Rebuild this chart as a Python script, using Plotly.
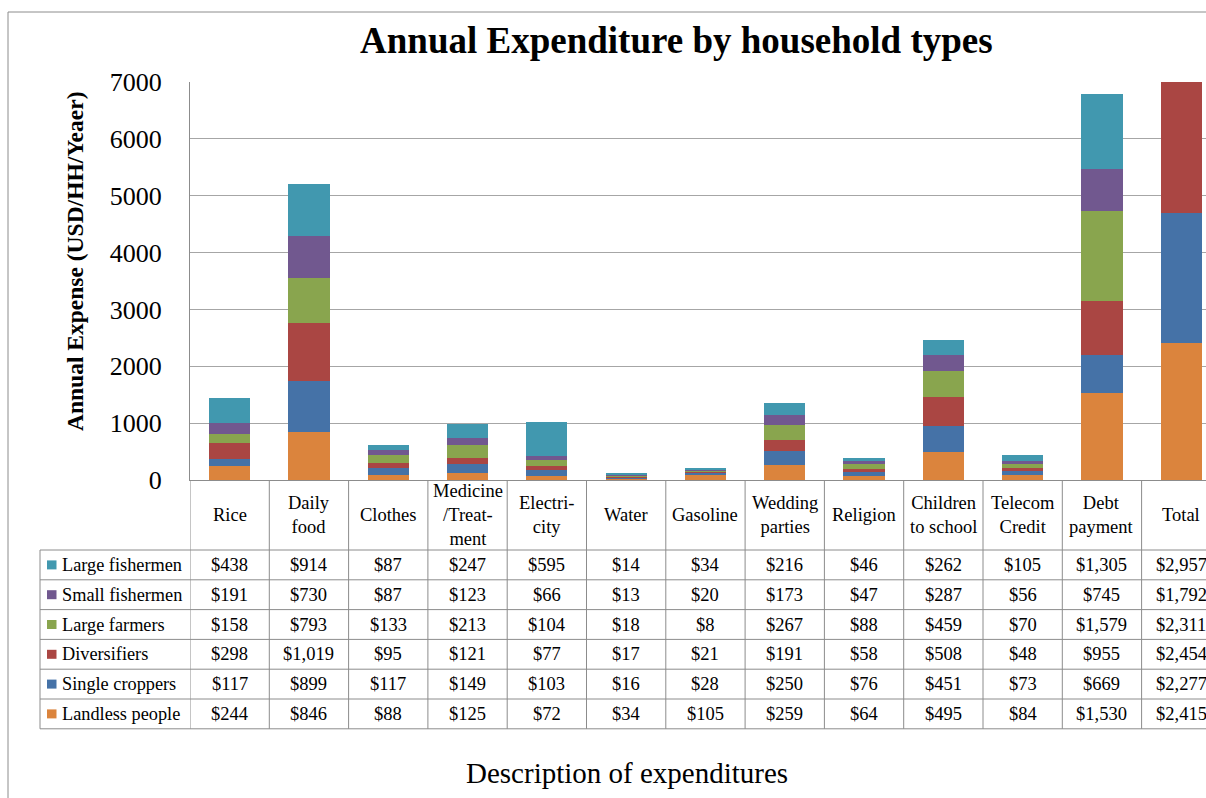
import plotly.graph_objects as go

categories = ["Rice", "Daily food", "Clothes", "Medicine/Treatment", "Electricity", "Water",
              "Gasoline", "Wedding parties", "Religion", "Children to school",
              "Telecom Credit", "Debt payment", "Total"]
header_labels = ["Rice", "Daily<br>food", "Clothes", "Medicine<br>/Treat-<br>ment", "Electri-<br>city",
                 "Water", "Gasoline", "Wedding<br>parties", "Religion", "Children<br>to school",
                 "Telecom<br>Credit", "Debt<br>payment", "Total"]

series_names = ["Landless people", "Single croppers", "Diversifiers", "Large farmers",
                "Small fishermen", "Large fishermen"]
landless_people = [244, 846, 88, 125, 72, 34, 105, 259, 64, 495, 84, 1530, 2415]
single_croppers = [117, 899, 117, 149, 103, 16, 28, 250, 76, 451, 73, 669, 2277]
diversifiers = [298, 1019, 95, 121, 77, 17, 21, 191, 58, 508, 48, 955, 2454]
large_farmers = [158, 793, 133, 213, 104, 18, 8, 267, 88, 459, 70, 1579, 2311]
small_fishermen = [191, 730, 87, 123, 66, 13, 20, 173, 47, 287, 56, 745, 1792]
large_fishermen = [438, 914, 87, 247, 595, 14, 34, 216, 46, 262, 105, 1305, 2957]
series_values = [landless_people, single_croppers, diversifiers, large_farmers,
                 small_fishermen, large_fishermen]
colors = ["#DB843D", "#4572A7", "#AA4643", "#89A54E", "#71588F", "#4198AF"]

y_ticks = [0, 1000, 2000, 3000, 4000, 5000, 6000, 7000]

FONT = "Liberation Serif"
W, H = 1206, 798
L, R, T, B = 190, 0, 82, 318
PW, PH = W - L - R, H - T - B
GRID = "#a6a6a6"
LINE = "#8c8c8c"


def px_x(px):
    return (px - L) / PW


def px_y(py):
    return (H - B - py) / PH


fig = go.Figure()
for name, vals, col in zip(series_names, series_values, colors):
    fig.add_trace(go.Bar(x=categories, y=vals, name=name,
                         marker=dict(color=col, line=dict(width=0))))

cell_w = 79.3
n = len(categories)
x_max = -0.5 + PW / cell_w

fig.update_layout(
    width=W, height=H, autosize=False,
    margin=dict(l=L, r=R, t=T, b=B, pad=0),
    barmode="stack", bargap=0.48, showlegend=False,
    plot_bgcolor="white", paper_bgcolor="white",
    font=dict(family=FONT, color="black"),
    xaxis=dict(range=[-0.5, x_max], showticklabels=False, showgrid=False,
               showline=True, linecolor=LINE, linewidth=1, ticks="", zeroline=False),
    yaxis=dict(range=[0, 7000], tickvals=y_ticks, showgrid=True, gridcolor=GRID, gridwidth=1,
               showline=True, linecolor=LINE, linewidth=1, zeroline=False,
               tickfont=dict(family=FONT, size=26, color="black"), ticklabelstandoff=22),
)

shapes = []
annotations = []

shapes.append(dict(type="rect", xref="paper", yref="paper",
                   x0=px_x(8), x1=px_x(1230), y0=px_y(12), y1=px_y(820),
                   line=dict(color=LINE, width=1), fillcolor="rgba(0,0,0,0)", layer="below"))

header_bottom = 550
row_h = 29.8
rows_bottom = header_bottom + row_h * len(series_names)

for i in range(-1, n):
    shapes.append(dict(type="line", xref="x", yref="paper", x0=i + 0.5, x1=i + 0.5,
                       y0=px_y(480), y1=px_y(rows_bottom), line=dict(color=LINE, width=1)))
shapes.append(dict(type="line", xref="paper", yref="paper", x0=px_x(40), x1=px_x(40),
                   y0=px_y(header_bottom), y1=px_y(rows_bottom), line=dict(color=LINE, width=1)))
for k in range(len(series_names) + 1):
    yy = header_bottom + row_h * k
    shapes.append(dict(type="line", xref="paper", yref="paper", x0=px_x(40), x1=px_x(1230),
                       y0=px_y(yy), y1=px_y(yy), line=dict(color=LINE, width=1)))

for cat, lab in zip(categories, header_labels):
    annotations.append(dict(xref="x", yref="paper", x=cat, y=px_y(515), text=lab,
                            showarrow=False, xanchor="center", yanchor="middle",
                            font=dict(family=FONT, size=18.5, color="black")))

for r, idx in enumerate(reversed(range(len(series_names)))):
    yc = header_bottom + row_h * (r + 0.5)
    name = series_names[idx]
    shapes.append(dict(type="rect", xref="paper", yref="paper",
                       x0=px_x(47), x1=px_x(56.5), y0=px_y(yc - 4.5), y1=px_y(yc + 4.5),
                       fillcolor=colors[idx], line=dict(width=0)))
    annotations.append(dict(xref="paper", yref="paper", x=px_x(59.5), y=px_y(yc), text=name,
                            showarrow=False, xanchor="left", yanchor="middle",
                            font=dict(family=FONT, size=18.3, color="black")))
    for cat, v in zip(categories, series_values[idx]):
        annotations.append(dict(xref="x", yref="paper", x=cat, y=px_y(yc), text=f"${v:,}",
                                showarrow=False, xanchor="center", yanchor="middle",
                                font=dict(family=FONT, size=18.5, color="black")))

annotations.append(dict(xref="paper", yref="paper", x=px_x(676), y=px_y(40),
                        text="<b>Annual Expenditure by household types</b>", showarrow=False,
                        xanchor="center", yanchor="middle",
                        font=dict(family=FONT, size=37, color="black")))
annotations.append(dict(xref="paper", yref="paper", x=px_x(75), y=px_y(262),
                        text="<b>Annual Expense (USD/HH/Yeaer)</b>", showarrow=False,
                        textangle=-90, xanchor="center", yanchor="middle",
                        font=dict(family=FONT, size=23.5, color="black")))
annotations.append(dict(xref="paper", yref="paper", x=px_x(627), y=px_y(773),
                        text="Description of expenditures", showarrow=False,
                        xanchor="center", yanchor="middle",
                        font=dict(family=FONT, size=29, color="black")))

fig.update_layout(shapes=shapes, annotations=annotations)
fig.write_html("out.html", config={"displayModeBar": False})

with open("out.html", "r", encoding="utf-8") as f:
    html = f.read()
html = html.replace("<body>", '<body style="margin:0;padding:0;overflow:hidden;">', 1)
with open("out.html", "w", encoding="utf-8") as f:
    f.write(html)
